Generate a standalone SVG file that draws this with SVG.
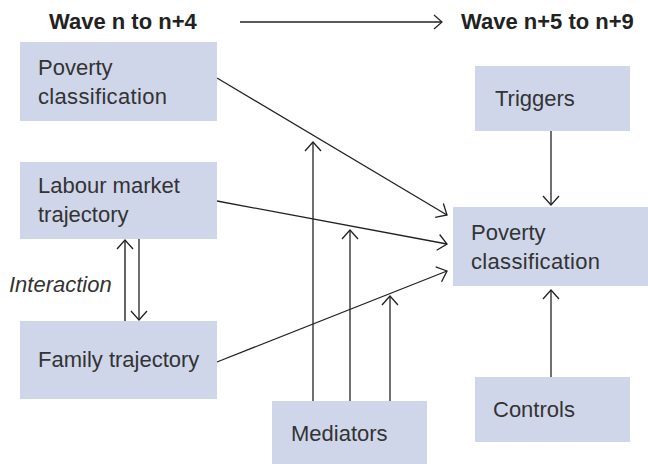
<svg xmlns="http://www.w3.org/2000/svg" width="648" height="464" viewBox="0 0 648 464">
<defs>
<style>
.box{fill:#cfd6ea;}
.t{font-family:"Liberation Sans",Arial,sans-serif;font-size:22px;fill:#333;}
.h{font-family:"Liberation Sans",Arial,sans-serif;font-size:22px;font-weight:bold;fill:#222;}
.i{font-family:"Liberation Sans",Arial,sans-serif;font-size:22px;font-style:italic;fill:#333;}
.c{fill:none;stroke:#222;stroke-width:1.3;}
</style>
<marker id="ah" markerUnits="userSpaceOnUse" viewBox="-11 -10 13 20" refX="0" refY="0" markerWidth="13" markerHeight="20" orient="auto">
<path d="M-9,-8 L0,0 L-9,8" fill="none" stroke="#222" stroke-width="1.3"/>
</marker>
<marker id="ahs" markerUnits="userSpaceOnUse" viewBox="-10 -9 12 18" refX="0" refY="0" markerWidth="12" markerHeight="18" orient="auto">
<path d="M-8,-7 L0,0 L-8,7" fill="none" stroke="#222" stroke-width="1.2"/>
</marker>
</defs>
<rect width="648" height="464" fill="#fff"/>
<text class="h" x="49" y="29">Wave n to n+4</text>
<text class="h" x="461" y="29">Wave n+5 to n+9</text>
<g id="connectors">
<line class="c" x1="240" y1="22" x2="442" y2="22" marker-end="url(#ahs)"/>
<line class="c" x1="217" y1="78" x2="447" y2="215" marker-end="url(#ah)"/>
<line class="c" x1="217" y1="201" x2="447" y2="244" marker-end="url(#ah)"/>
<line class="c" x1="217" y1="362" x2="447" y2="271" marker-end="url(#ah)"/>
<line class="c" x1="313" y1="401" x2="313" y2="142" marker-end="url(#ah)"/>
<line class="c" x1="350" y1="401" x2="350" y2="230" marker-end="url(#ah)"/>
<line class="c" x1="390" y1="401" x2="390" y2="296" marker-end="url(#ah)"/>
<line class="c" x1="551" y1="131" x2="551" y2="205" marker-end="url(#ah)"/>
<line class="c" x1="551" y1="377" x2="551" y2="290" marker-end="url(#ah)"/>
<line class="c" x1="125" y1="321" x2="125" y2="240" marker-end="url(#ah)" style="stroke:#555;stroke-width:1.8"/>
<line class="c" x1="139" y1="239" x2="139" y2="320" marker-end="url(#ah)"/>
</g>
<g id="poverty-before">
<rect class="box" x="20" y="42" width="197" height="79"/>
<text class="t" x="38" y="75">Poverty</text>
<text class="t" x="38" y="104" textLength="129" lengthAdjust="spacing">classification</text>
</g>
<g id="labour">
<rect class="box" x="20" y="162" width="197" height="77"/>
<text class="t" x="38" y="193">Labour market</text>
<text class="t" x="38" y="222">trajectory</text>
</g>
<g id="family">
<rect class="box" x="20" y="321" width="197" height="78"/>
<text class="t" x="38" y="367">Family trajectory</text>
</g>
<text class="i" x="9" y="292">Interaction</text>
<g id="triggers">
<rect class="box" x="475" y="66" width="155" height="65"/>
<text class="t" x="495" y="106">Triggers</text>
</g>
<g id="poverty-after">
<rect class="box" x="453" y="207" width="195" height="79"/>
<text class="t" x="471" y="240">Poverty</text>
<text class="t" x="471" y="269" textLength="129" lengthAdjust="spacing">classification</text>
</g>
<g id="controls">
<rect class="box" x="475" y="377" width="155" height="65"/>
<text class="t" x="493" y="417">Controls</text>
</g>
<g id="mediators">
<rect class="box" x="272" y="401" width="155" height="63"/>
<text class="t" x="291" y="441">Mediators</text>
</g>
</svg>
